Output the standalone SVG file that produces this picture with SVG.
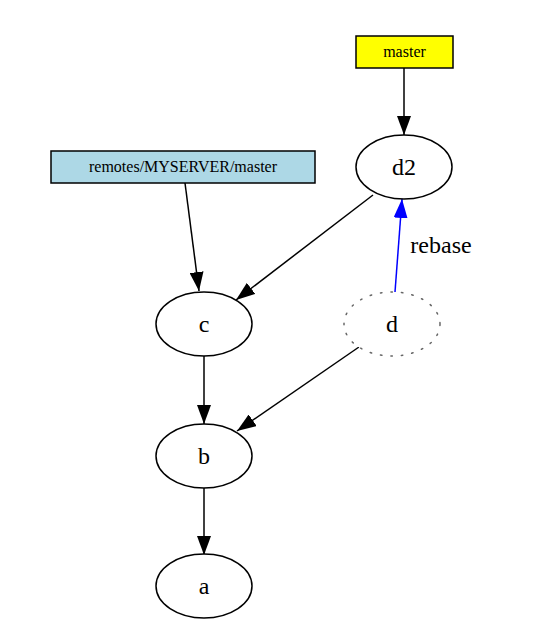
<svg xmlns="http://www.w3.org/2000/svg" width="535" height="628" viewBox="0 0 535 628">
<style>
.box{stroke:#000;stroke-width:1.5}
.node{fill:#fff;stroke:#000;stroke-width:1.5}
.lbl{font-family:"Liberation Serif","Times New Roman",serif;font-size:24px;fill:#000;text-anchor:middle}
.small{font-family:"Liberation Serif","Times New Roman",serif;font-size:16px;fill:#000;text-anchor:middle}
.edge{fill:none;stroke:#000;stroke-width:1.5}
</style>
<defs>
<marker id="ah" viewBox="0 0 19 14" refX="19" refY="7" markerWidth="19" markerHeight="14" markerUnits="userSpaceOnUse" orient="auto"><path d="M0,0 L19,7 L0,14 z" fill="#000"/></marker>
<marker id="ahb" viewBox="0 0 19 14" refX="19" refY="7" markerWidth="19" markerHeight="14" markerUnits="userSpaceOnUse" orient="auto"><path d="M0,0 L19,7 L0,14 z" fill="#00f"/></marker>
</defs>
<rect width="535" height="628" fill="#fff"/>
<g id="connectors">
<line class="edge" x1="404" y1="68" x2="404" y2="135" marker-end="url(#ah)"/>
<line class="edge" x1="185" y1="183" x2="199" y2="291" marker-end="url(#ah)"/>
<line class="edge" x1="373" y1="195" x2="236" y2="300" marker-end="url(#ah)"/>
<line class="edge" x1="359" y1="347" x2="237" y2="431" marker-end="url(#ah)"/>
<line class="edge" x1="204" y1="356" x2="204" y2="424" marker-end="url(#ah)"/>
<line class="edge" x1="204" y1="488" x2="204" y2="555" marker-end="url(#ah)"/>
<line x1="395" y1="292" x2="402" y2="199" stroke="#00f" stroke-width="1.5" marker-end="url(#ahb)"/>
<text class="lbl" x="441" y="253">rebase</text>
</g>
<g id="master">
<rect class="box" x="356" y="36" width="97" height="32" fill="#ffff00"/>
<text class="small" x="404.5" y="57">master</text>
</g>
<g id="remotes">
<rect class="box" x="51" y="151" width="264" height="32" fill="#add8e6"/>
<text class="small" x="183" y="172">remotes/MYSERVER/master</text>
</g>
<g id="d2">
<ellipse class="node" cx="404" cy="167" rx="48" ry="32"/>
<text class="lbl" x="404" y="175">d2</text>
</g>
<g id="c">
<ellipse class="node" cx="204" cy="324" rx="48" ry="32"/>
<text class="lbl" x="204" y="332">c</text>
</g>
<g id="d">
<ellipse cx="392" cy="324" rx="48" ry="32" fill="#fff" stroke="#666" stroke-width="1.5" stroke-dasharray="1.5,9" stroke-linecap="round"/>
<text class="lbl" x="392" y="332">d</text>
</g>
<g id="b">
<ellipse class="node" cx="204" cy="456" rx="48" ry="32"/>
<text class="lbl" x="204" y="464">b</text>
</g>
<g id="a">
<ellipse class="node" cx="204" cy="586" rx="48" ry="32"/>
<text class="lbl" x="204" y="594">a</text>
</g>
</svg>
